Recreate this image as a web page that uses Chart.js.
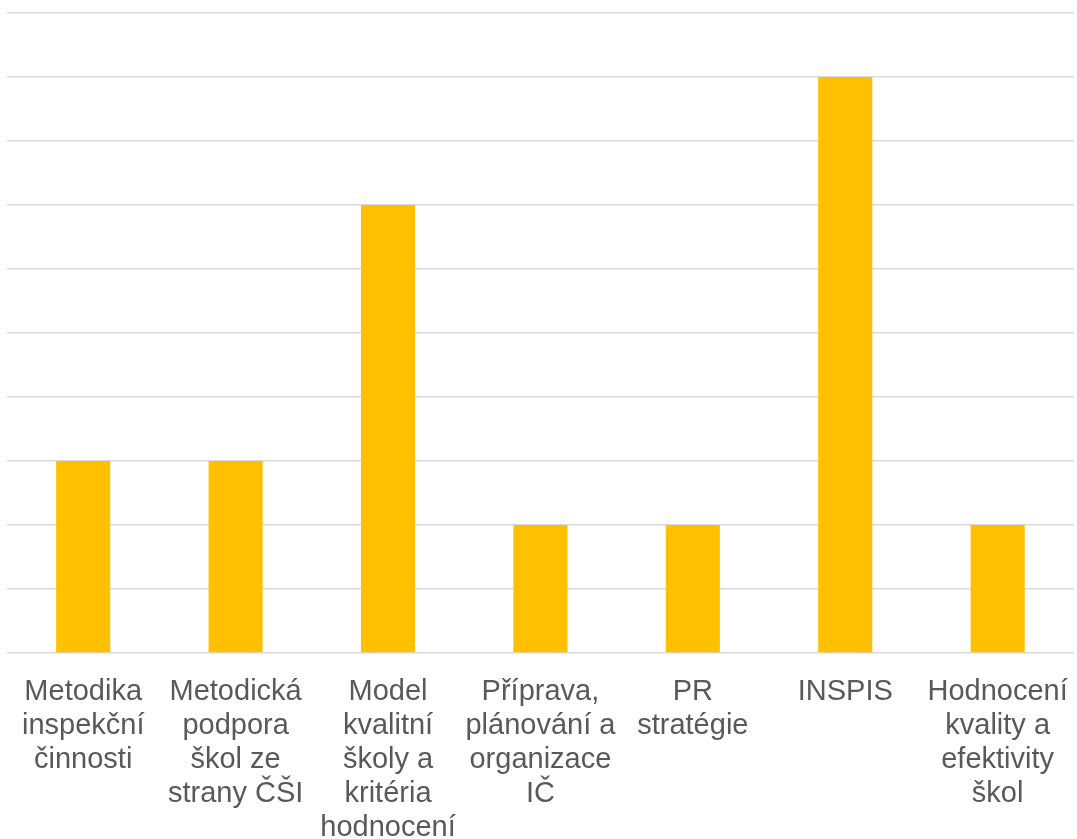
<!DOCTYPE html>
<html>
<head>
<meta charset="utf-8">
<script src="https://cdn.jsdelivr.net/npm/chart.js@4"></script>
<style>
  html, body { margin: 0; padding: 0; background: #fff; overflow: hidden; }
  #wrap { width: 1082px; height: 839px; }
</style>
</head>
<body>
<div id="wrap"><canvas id="c"></canvas></div>
<script>
// labels wrapped the same way as the original slide
var cats = [
  ["Metodika", "inspekční", "činnosti"],
  ["Metodická", "podpora", "škol ze", "strany ČŠI"],
  ["Model", "kvalitní", "školy a", "kritéria", "hodnocení"],
  ["Příprava,", "plánování a", "organizace", "IČ"],
  ["PR", "stratégie"],
  ["INSPIS"],
  ["Hodnocení", "kvality a", "efektivity", "škol"]
];
var counts = [3, 3, 7, 2, 2, 9, 2];

var yMax = 10;

new Chart(document.getElementById("c"), {
  type: "bar",
  data: {
    labels: cats,
    datasets: [{
      data: counts,
      backgroundColor: "#FFC000",
      barPercentage: 0.355,
      categoryPercentage: 1
    }]
  },
  options: {
    responsive: true,
    maintainAspectRatio: false,
    animation: false,
    // wrap is a few px wider than the window, the plot runs to the very edge in the original
    layout: { autoPadding: false, padding: { top: 13, left: 7, right: 3, bottom: 0 } },
    plugins: { legend: { display: false }, tooltip: { enabled: false } },
    scales: {
      x: {
        grid: { display: false },
        border: { display: false },
        ticks: {
          color: "#595959",
          font: { family: "Liberation Sans, Arial", size: 29, lineHeight: "34px" },
          padding: 14,
          maxRotation: 0,
          autoSkip: false
        },
        afterFit: function(s) { s.height = 186; }
      },
      y: {
        min: 0,
        max: yMax,
        ticks: { display: false, stepSize: 1 },
        border: { display: false },
        grid: { color: "#d9d9d9", lineWidth: 1.5, drawTicks: false },
        afterFit: function(s) { s.width = 0; }
      }
    }
  }
});
</script>
</body>
</html>
